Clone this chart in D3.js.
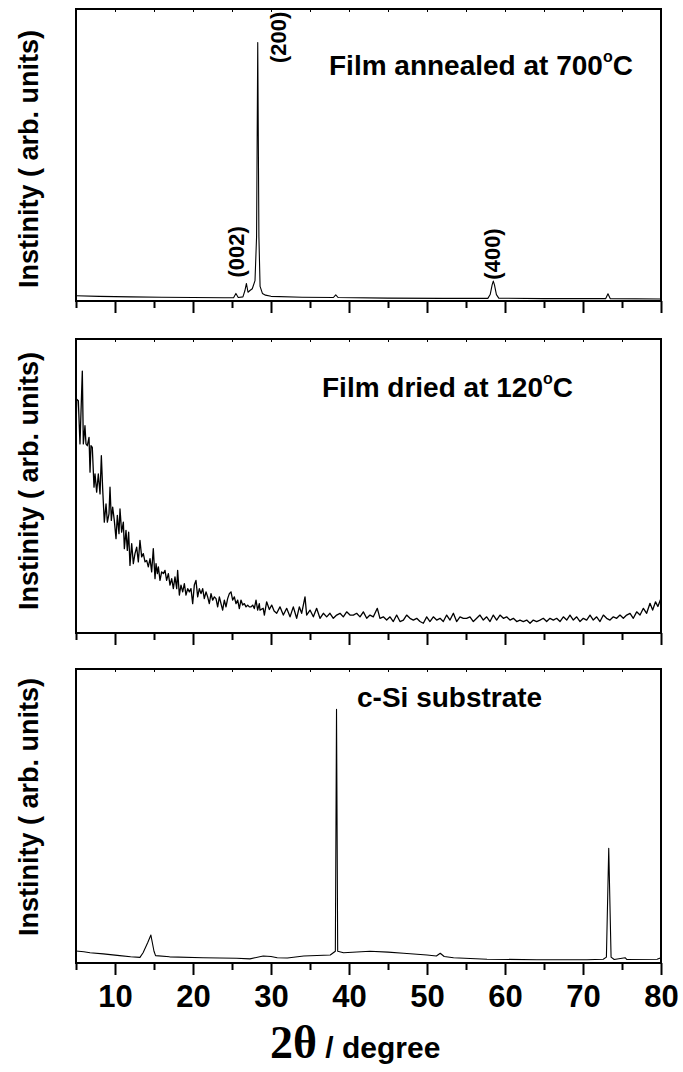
<!DOCTYPE html>
<html>
<head>
<meta charset="utf-8">
<script src="https://cdn.jsdelivr.net/npm/d3@7"></script>
<style>body{margin:0;background:#fff}</style>
</head>
<body>
<script>
// 2theta (deg), intensity (% of panel height)
const annealed = [[5,1.8],[8,1.6],[12,1.4],[16,1.3],[20,1.2],[24,1.1],[25.2,1.1],[25.5,2.6],[25.8,1.2],
[26.4,1.4],[26.65,3.5],[26.85,6.0],[27.05,3.0],[27.3,3.6],[27.6,4.2],[27.95,7],[28.15,22],[28.3,88.5],
[28.45,22],[28.6,5],[28.9,2.6],[29.3,2],[30,1.6],[34,1.3],[38,1.2],[38.3,2.1],[38.6,1.2],[45,1.0],
[52,0.9],[57.8,0.9],[58.1,2.2],[58.35,5.5],[58.5,6.8],[58.65,5.5],[58.9,2.2],[59.2,1.0],[65,0.8],
[72.9,0.8],[73.2,2.5],[73.5,0.8],[80,0.7]];

const dried = [[5.0,68.8],[5.09,79.5],[5.3,79],[5.51,64.3],[5.81,89.1],[5.94,64.3],[6.15,70.5],[6.28,64.3],
[6.45,63.7],[6.67,66.5],[6.8,54.7],[6.92,63.7],[7.09,63.1],[7.31,49.6],[7.44,54.1],[7.65,47.9],[7.86,54.1],
[8.08,47.3],[8.25,60.3],[8.42,49],[8.63,37.7],[8.85,43.9],[9.02,37.7],[9.23,40.5],[9.36,49.6],[9.53,38.3],
[9.7,42.8],[9.91,38.3],[10.13,32.1],[10.3,40],[10.51,33.8],[10.64,42.2],[10.85,34.3],[11.07,37.7],[11.2,28.7],
[11.41,34.9],[11.58,28.1],[11.75,34.3],[11.92,23],[12.14,30.4],[12.35,23.6],[12.56,27],[12.78,29.2],[12.99,24.2],
[13.2,31.5],[13.42,25.9],[13.63,27],[13.85,24.2],[14.06,24.7],[14.27,22.5],[14.49,25.3],[14.7,20.8],[14.91,28.7],
[15.13,18.5],[15.26,23.6],[15.43,20.2],[15.56,22.5],[15.77,17.9],[15.98,20.8],[16.2,20.2],[16.41,21.3],[16.62,17.9],
[16.84,20.2],[17.05,16.3],[17.27,18.5],[17.48,15.1],[17.69,19.1],[17.91,15.1],[18.03,21.3],[18.25,12.9],[18.46,16.3],
[18.68,14],[18.89,16.8],[19.1,12.9],[19.32,15.1],[19.53,14],[19.74,15.1],[19.96,10],[20.17,16.3],[20.38,17.9],
[20.6,12.3],[20.81,15.1],[21.03,13.4],[21.24,15.1],[21.45,11.7],[21.67,14],[21.88,12.3],[22.09,10],[22.31,13.4],
[22.52,11.2],[22.74,12.3],[22.95,11.7],[23.16,8.9],[23.38,12.3],[23.59,10],[23.8,7.8],[24.02,11.2],[24.23,8.9],
[24.44,11.7],[24.66,13.4],[24.87,14],[25.09,11.2],[25.3,12.3],[25.51,10],[25.73,11.2],[25.94,8.3],[26.15,11.2],
[26.37,9.5],[26.58,10],[26.8,8.9],[27.01,9.5],[27.22,8.9],[27.44,8.9],[27.65,9.5],[27.86,8.3],[28.08,11.2],
[28.29,7.8],[28.5,10],[28.59,7.8],[29.0,8.4],[29.15,6.1],[29.44,10.6],[29.79,8.0],[30.09,9.5],[30.4,7.5],
[30.73,6.7],[31.15,8.9],[31.58,6.1],[32.01,8.4],[32.44,5.5],[32.86,8.9],[33.29,5.0],[33.63,8.9],[33.93,6.7],
[34.36,12.3],[34.57,6.1],[35.0,7.8],[35.43,5.5],[35.85,8.4],[36.28,5.0],[36.71,6.7],[37.14,5.5],[37.56,6.7],
[37.99,5.0],[38.42,6.1],[38.85,6.7],[39.27,5.5],[39.7,7.2],[40.13,6.1],[40.56,6.1],[40.98,6.7],[41.41,5.5],
[41.84,7.2],[42.27,5.0],[42.69,6.1],[43.12,5.5],[43.63,8.4],[43.97,5.0],[44.4,5.5],[44.83,4.4],[45.26,5.5],
[45.68,3.9],[46.11,6.1],[46.54,3.9],[46.97,4.4],[47.39,6.1],[47.82,5.0],[48.25,4.4],[48.68,5.0],[49.1,3.9],
[49.53,3.3],[49.96,5.5],[50.38,3.9],[50.81,5.5],[51.24,4.4],[51.67,5.0],[52.09,3.9],[52.52,6.1],[52.95,4.4],
[53.38,6.7],[53.8,3.9],[54.23,5.5],[54.66,5.0],[55.08,5.0],[55.51,5.5],[55.94,3.9],[56.37,5.0],[56.79,6.1],
[57.22,4.4],[57.65,5.5],[58.08,3.9],[58.5,6.1],[58.93,4.4],[59.36,6.1],[59.79,5.0],[60.21,5.5],[60.64,4.4],
[61.07,5.0],[61.5,3.9],[61.92,4.4],[62.35,3.9],[62.78,4.4],[63.21,3.3],[63.63,4.4],[64.06,3.9],[64.49,4.4],
[64.91,5.0],[65.34,3.9],[65.77,5.0],[66.2,4.4],[66.62,5.0],[67.05,3.9],[67.48,5.5],[67.91,4.4],[68.33,6.1],
[68.76,4.4],[69.19,5.5],[69.62,3.9],[70.04,5.0],[70.47,4.4],[70.9,6.1],[71.32,4.4],[71.75,5.5],[72.18,3.9],
[72.61,6.1],[73.03,5.0],[73.46,4.4],[73.89,5.5],[74.32,5.0],[74.74,6.1],[75.17,5.0],[75.6,6.1],[76.03,6.7],
[76.45,5.0],[76.88,7.2],[77.31,6.1],[77.74,8.4],[78.16,6.7],[78.59,10.1],[78.93,7.8],[79.3,10.6],[79.6,9.0],
[80.0,11.8]];

const substrate = [[5,4.1],[6,3.8],[6.8,3.5],[8.5,3.1],[10.6,2.5],[12,2.1],[13.2,1.9],[13.6,3.5],[14.2,7],
[14.6,9.5],[15.0,4],[15.2,2.5],[17,2.1],[21.3,1.8],[25.6,1.6],[27.3,1.4],[29,2.4],[30,2.2],[30.8,1.8],
[32.1,1.7],[34.2,2.4],[37.6,2.7],[38.25,4],[38.4,86.3],[38.55,4],[39.3,3.5],[42.7,4.0],[45,3.7],[47,3.3],
[50,2.7],[51.2,2.4],[51.7,3.3],[52.2,2.2],[53.4,1.8],[57.7,1.3],[64.1,1.1],[70.5,1.1],[72.6,1.3],[73.0,2],
[73.3,39],[73.6,2],[74,1.2],[75.4,1.8],[75.6,1.2],[79.5,1.3],[80,1.8]];

const majorTicks = [10, 20, 30, 40, 50, 60, 70, 80];
const minorTicks = [5, 15, 25, 35, 45, 55, 65, 75];
const peakNames = ["(002)", "(200)", "(400)"];
const peakAngles = [26.85, 28.3, 58.5];
const sampleNames = ["Film annealed at 700", "Film dried at 120", "c-Si substrate"];

var W = 683, H = 1072;
var left = 76, right = 661;
var font = "Arial, 'Liberation Sans', sans-serif";

var svg = d3.select("body").append("svg")
    .attr("width", W).attr("height", H);

var x = d3.scaleLinear().domain([5, 80]).range([left, right]);

var panels = [
    { data: annealed, top: 9, bottom: 301, name: sampleNames[0], deg: true, nx: 329, ny: 75, lab: 159 },
    { data: dried, top: 339, bottom: 633, name: sampleNames[1], deg: true, nx: 322, ny: 397, lab: 481 },
    { data: substrate, top: 669, bottom: 963, name: sampleNames[2], deg: false, nx: 357, ny: 707, lab: 807 }
];

panels.forEach(function (p, i) {
    var y = d3.scaleLinear().domain([0, 100]).range([p.bottom, p.top]);
    var g = svg.append("g");

    // bottom ticks, outward
    g.append("g").attr("transform", "translate(0," + p.bottom + ")")
        .call(d3.axisBottom(x).tickValues(minorTicks).tickSize(7).tickFormat(""))
        .call(a => a.select(".domain").remove())
        .selectAll("line").attr("stroke-width", 2);
    var ax = g.append("g").attr("transform", "translate(0," + p.bottom + ")")
        .call(d3.axisBottom(x).tickValues(majorTicks).tickSize(12)
            .tickFormat(i == 2 ? d3.format("d") : ""))
        .call(a => a.select(".domain").remove());
    ax.selectAll("line").attr("stroke-width", 2);
    ax.selectAll("text").attr("font-family", font).attr("font-weight", "bold")
        .attr("font-size", 31).attr("fill", "#000").attr("dy", null).attr("y", 44);

    // small inward ticks along top border
    g.append("g").attr("transform", "translate(0," + p.top + ")")
        .call(d3.axisTop(x).tickValues(majorTicks.concat(minorTicks)).tickSize(-3).tickFormat(""))
        .call(a => a.select(".domain").remove())
        .selectAll("line").attr("stroke-width", 1);

    g.append("path").datum(p.data)
        .attr("fill", "none").attr("stroke", "#000")
        .attr("stroke-width", i == 1 ? 1.3 : 1.1)
        .attr("stroke-linejoin", "round")
        .attr("d", d3.line().x(d => x(d[0])).y(d => y(d[1])));

    g.append("rect").attr("x", left).attr("y", p.top)
        .attr("width", right - left).attr("height", p.bottom - p.top)
        .attr("fill", "none").attr("stroke", "#000").attr("stroke-width", 2);

    var t = g.append("text").attr("x", p.nx).attr("y", p.ny)
        .attr("font-family", font).attr("font-weight", "bold").attr("font-size", 28)
        .text(p.name);
    if (p.deg) {
        t.append("tspan").attr("font-size", 16).attr("dy", -13).text("o");
        t.append("tspan").attr("dy", 13).text("C");
    }

    g.append("text")
        .attr("transform", "translate(38," + p.lab + ") rotate(-90)")
        .attr("text-anchor", "middle")
        .attr("font-family", font).attr("font-weight", "bold").attr("font-size", 27)
        .text("Instinity ( arb. units)");
});

// peak indices on the annealed film
var yTop = d3.scaleLinear().domain([0, 100]).range([301, 9]);
var offs = [-0.3, 3.6, 0.9];
var mids = [16.8, 90.3, 16.1];
peakNames.forEach(function (n, k) {
    svg.append("text")
        .attr("transform", "translate(" + x(peakAngles[k] + offs[k]) + "," + yTop(mids[k]) + ") rotate(-90)")
        .attr("text-anchor", "middle")
        .attr("font-family", font).attr("font-weight", "bold").attr("font-size", 22)
        .text(n);
});

var xt = svg.append("text").attr("x", 270).attr("y", 1058)
    .attr("font-family", font).attr("font-weight", "bold").attr("font-size", 30);
xt.append("tspan").attr("font-family", "'Liberation Serif', 'Times New Roman', serif")
    .attr("font-size", 46).text("2θ");
xt.append("tspan").text(" / degree");
</script>
</body>
</html>
